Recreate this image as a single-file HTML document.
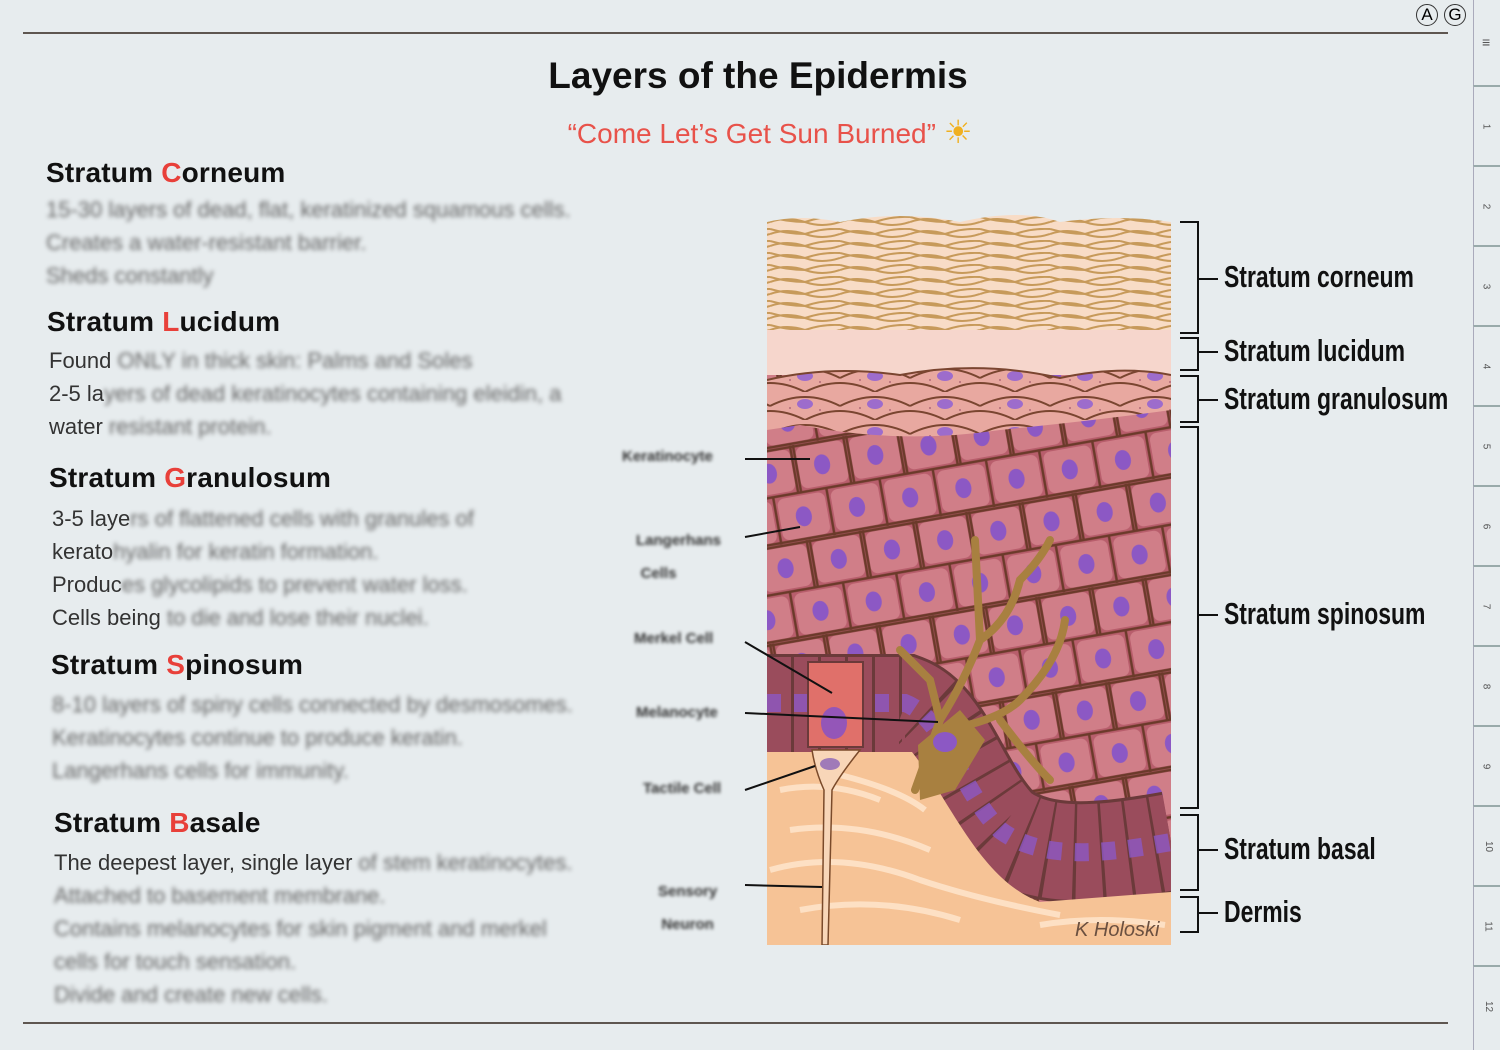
<!DOCTYPE html>
<html><head><meta charset="utf-8"><style>
body{margin:0;width:1500px;height:1048px;background:#e7ecee;position:relative;overflow:hidden;font-family:"Liberation Sans",sans-serif}
.hl{position:absolute;height:2px;background:#5e5650}
h1{position:absolute;left:0;width:1516px;top:55px;margin:0;text-align:center;font-size:37px;font-weight:bold;color:#111}
.sub{position:absolute;left:0;width:1540px;top:113px;text-align:center;font-size:28px;color:#e8524a}
.hd{position:absolute;font-size:28px;color:#111;font-weight:bold;letter-spacing:0.2px}
.hd b{color:#e8403a}
.tx{position:absolute;font-size:22px;color:#333;line-height:33px;white-space:nowrap}
.bl{filter:blur(2.2px);color:#666}
.lab{position:absolute;font-size:31px;font-weight:bold;color:#111;transform:scaleX(0.74);transform-origin:left center;white-space:nowrap}
.sl{position:absolute;font-size:15px;font-weight:bold;color:#333;filter:blur(1.6px);text-align:center}
.tab{position:absolute;left:1473px;width:27px;height:80px;border-left:1px solid #aab;border-top:2px solid #9aa;font-size:10px;color:#555}
.tab span{position:absolute;left:9px;top:34px;transform:rotate(90deg)}
</style></head><body>
<div class="hl" style="left:23px;top:32px;width:1425px"></div>
<div class="hl" style="left:23px;top:1022px;width:1425px"></div>
<div style="position:absolute;left:1416px;top:4px;width:20px;height:20px;border:1px solid #333;border-radius:50%;font-size:17px;text-align:center;line-height:20px">A</div>
<div style="position:absolute;left:1444px;top:4px;width:20px;height:20px;border:1px solid #333;border-radius:50%;font-size:17px;text-align:center;line-height:20px">G</div>
<div class="tab" style="top:0;border-top:none;height:85px"><span style="transform:none;left:8px;top:34px;font-size:14px">≡</span></div>
<div class="tab" style="top:85px"><span>1</span></div>
<div class="tab" style="top:165px"><span>2</span></div>
<div class="tab" style="top:245px"><span>3</span></div>
<div class="tab" style="top:325px"><span>4</span></div>
<div class="tab" style="top:405px"><span>5</span></div>
<div class="tab" style="top:485px"><span>6</span></div>
<div class="tab" style="top:565px"><span>7</span></div>
<div class="tab" style="top:645px"><span>8</span></div>
<div class="tab" style="top:725px"><span>9</span></div>
<div class="tab" style="top:805px"><span>10</span></div>
<div class="tab" style="top:885px"><span>11</span></div>
<div class="tab" style="top:965px;height:83px"><span>12</span></div>

<h1>Layers of the Epidermis</h1>
<div class="sub">“Come Let’s Get Sun Burned” <span style="color:#f0b020;font-size:32px">☀</span></div>

<div class="hd" style="left:46px;top:157px">Stratum <b>C</b>orneum</div>
<div class="tx bl" style="left:46px;top:193px">15-30 layers of dead, flat, keratinized squamous cells.<br>Creates a water-resistant barrier.<br>Sheds constantly</div>
<div class="hd" style="left:47px;top:306px">Stratum <b>L</b>ucidum</div>
<div class="tx" style="left:49px;top:344px">Found <span class="bl">ONLY in thick skin: Palms and Soles</span><br>2-5 la<span class="bl">yers of dead keratinocytes containing eleidin, a</span><br>water <span class="bl">resistant protein.</span></div>
<div class="hd" style="left:49px;top:462px">Stratum <b>G</b>ranulosum</div>
<div class="tx" style="left:52px;top:502px">3-5 laye<span class="bl">rs of flattened cells with granules of</span><br>kerato<span class="bl">hyalin for keratin formation.</span><br>Produc<span class="bl">es glycolipids to prevent water loss.</span><br>Cells being <span class="bl">to die and lose their nuclei.</span></div>
<div class="hd" style="left:51px;top:649px">Stratum <b>S</b>pinosum</div>
<div class="tx bl" style="left:52px;top:688px">8-10 layers of spiny cells connected by desmosomes.<br>Keratinocytes continue to produce keratin.<br>Langerhans cells for immunity.</div>
<div class="hd" style="left:54px;top:807px">Stratum <b>B</b>asale</div>
<div class="tx" style="left:54px;top:846px">The deepest layer, single layer <span class="bl">of stem keratinocytes.</span><br><span class="bl">Attached to basement membrane.<br>Contains melanocytes for skin pigment and merkel<br>cells for touch sensation.<br>Divide and create new cells.</span></div>

<div class="sl" style="left:622px;top:448px">Keratinocyte</div>
<div class="sl" style="left:636px;top:524px;line-height:33px">Langerhans<br><span style="margin-right:40px">Cells</span></div>
<div class="sl" style="left:634px;top:630px">Merkel Cell</div>
<div class="sl" style="left:636px;top:704px">Melanocyte</div>
<div class="sl" style="left:643px;top:780px">Tactile Cell</div>
<div class="sl" style="left:658px;top:875px;line-height:33px">Sensory<br>Neuron</div>

<svg style="position:absolute;left:0;top:0" width="1500" height="1048">
<defs>
<pattern id="corn" width="70" height="12" patternUnits="userSpaceOnUse">
<rect width="70" height="12" fill="#f8dcc6"/>
<path d="M0,6 Q17,0 35,6 Q52,12 70,6 M35,6 Q52,0 70,1 M0,1 Q17,6 35,6" stroke="#c79a5a" stroke-width="2" fill="none"/>
</pattern>
<pattern id="gran" width="70" height="28" patternUnits="userSpaceOnUse">
<rect width="70" height="28" fill="#e8a8a0"/>
<path d="M0,14 Q35,-4 70,14 M-35,28 Q0,10 35,28 M35,28 Q70,10 105,28" stroke="#7a4530" stroke-width="2" fill="none"/>
<ellipse cx="35" cy="12" rx="8" ry="5" fill="#9d6ccc"/>
<circle cx="20" cy="16" r="1" fill="#b26a78"/><circle cx="50" cy="18" r="1" fill="#b26a78"/>
</pattern>
<pattern id="spin" width="54" height="96" patternUnits="userSpaceOnUse" patternTransform="rotate(-10)">
<rect width="54" height="96" fill="#b85e6c"/>
<rect x="3" y="3" width="48" height="42" rx="7" fill="#d07e88"/>
<rect x="-24" y="51" width="48" height="42" rx="7" fill="#d07e88"/>
<rect x="30" y="51" width="48" height="42" rx="7" fill="#d07e88"/>
<ellipse cx="27" cy="24" rx="8" ry="10" fill="#8c58c4"/>
<ellipse cx="0" cy="72" rx="8" ry="10" fill="#8c58c4"/>
<ellipse cx="54" cy="72" rx="8" ry="10" fill="#8c58c4"/>
<path d="M0,1.5 H54 M0,48 H54 M0,94.5 H54 M1.5,0 V48 M52.5,0 V48 M27,48 V96" stroke="#6b3a2a" stroke-width="2.5"/>
</pattern>
<clipPath id="img"><rect x="767" y="205" width="404" height="740"/></clipPath>
</defs>
<g clip-path="url(#img)">
<rect x="767" y="340" width="404" height="605" fill="url(#spin)"/>
<path d="M767,222 Q800,214 840,222 Q900,210 960,222 Q1020,208 1060,222 Q1120,214 1171,222 L1171,345 L767,345Z" fill="url(#corn)"/>
<rect x="767" y="330" width="404" height="45" fill="#f6d6cc"/>
<path d="M767,380 Q830,365 900,375 Q980,360 1060,378 Q1120,365 1171,375 L1171,410 Q1100,420 1000,430 Q900,445 800,425 L767,430Z" fill="url(#gran)"/>
<path d="M767,380 Q830,365 900,375 Q980,360 1060,378 Q1120,365 1171,375" stroke="#7a4530" stroke-width="2" fill="none"/>
<path d="M767,705 L905,705 C945,720 960,790 1000,830 C1040,860 1100,855 1171,842" stroke="#6b3a3a" stroke-width="102" fill="none"/>
<path d="M767,705 L905,705 C945,720 960,790 1000,830 C1040,860 1100,855 1171,842" stroke="#9a4c5c" stroke-width="96" fill="none" stroke-dasharray="24 3"/>
<path d="M767,703 L905,703 C945,718 960,790 1000,830 C1040,860 1100,855 1171,842" stroke="#8c58c4" stroke-width="18" fill="none" stroke-dasharray="14 13" opacity="0.8"/>
<path d="M767,752 L912,752 C950,800 980,880 1040,902 L1171,892 L1171,945 L767,945Z" fill="#f6c396"/>
<path d="M780,790 Q830,780 880,800 M790,830 Q860,820 930,850 M770,870 Q840,850 920,880 Q980,900 1060,915 M800,910 Q880,895 960,920 M840,775 Q900,790 925,810 M1040,925 Q1100,915 1165,925" stroke="#fde0c4" stroke-width="6" fill="none"/>
<rect x="808" y="662" width="55" height="85" fill="#e0706a" stroke="#6b3a3a" stroke-width="2"/>
<ellipse cx="834" cy="723" rx="13" ry="16" fill="#9456b8"/>
<path d="M812,750 L860,750 Q840,775 832,790 L828,945 L822,945 L824,790 Q815,770 812,750Z" fill="#f8d6b8" stroke="#7a4a2a" stroke-width="1.5"/>
<ellipse cx="830" cy="764" rx="10" ry="6" fill="#a07ab8"/>
<path d="M915,790 L940,720 L930,680 L900,650 M940,720 Q965,680 980,640 L975,540 M980,640 Q1010,620 1020,580 Q1040,560 1050,540 M945,730 Q1000,720 1020,700 Q1060,660 1065,620 M1000,720 Q1030,760 1050,780" stroke="#a88040" stroke-width="8" fill="none" stroke-linecap="round"/>
<path d="M918,745 L960,710 L985,740 L955,790 L920,800Z" fill="#a88040"/>
<ellipse cx="945" cy="742" rx="12" ry="10" fill="#8c58c4"/>
<text x="1075" y="936" font-family="Liberation Sans" font-style="italic" font-size="20" fill="#6b5040">K Holoski</text>
</g>
<g stroke="#111" stroke-width="2" fill="none">
<path d="M745,459 L810,459 M745,537 L800,527 M745,642 L832,693 M745,713 L938,722 M745,790 L815,766 M745,885 L822,887"/>
<path d="M1180,222 H1198 V333 H1180 M1198,279 H1218"/>
<path d="M1180,338 H1198 V370 H1180 M1198,352 H1218"/>
<path d="M1180,376 H1198 V422 H1180 M1198,400 H1218"/>
<path d="M1180,427 H1198 V808 H1180 M1198,615 H1218"/>
<path d="M1180,815 H1198 V890 H1180 M1198,850 H1218"/>
<path d="M1180,897 H1198 V932 H1180 M1198,913 H1218"/>
</g>
</svg>
<div class="lab" style="left:1224px;top:259px">Stratum corneum</div>
<div class="lab" style="left:1224px;top:333px">Stratum lucidum</div>
<div class="lab" style="left:1224px;top:381px">Stratum granulosum</div>
<div class="lab" style="left:1224px;top:596px">Stratum spinosum</div>
<div class="lab" style="left:1224px;top:831px">Stratum basal</div>
<div class="lab" style="left:1224px;top:894px">Dermis</div>
</body></html>
